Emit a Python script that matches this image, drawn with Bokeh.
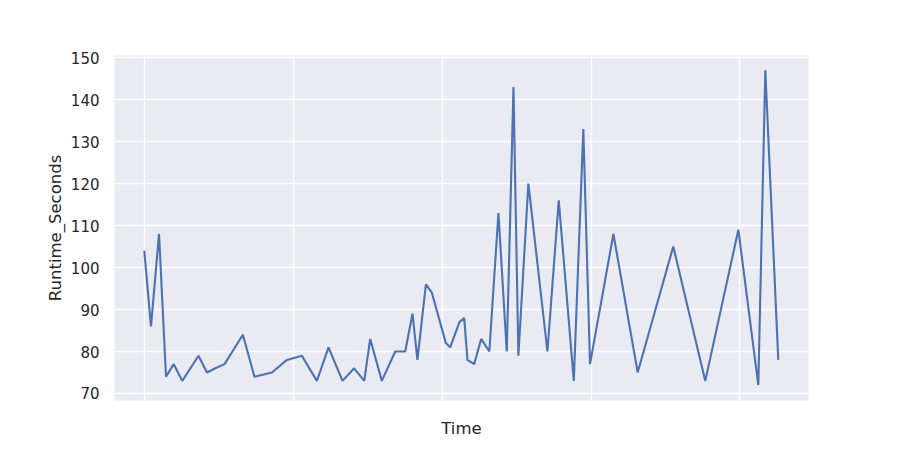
from bokeh.plotting import figure
from bokeh.models import FixedTicker, Range1d
from bokeh.embed import file_html
from bokeh.resources import INLINE

# Time (in days from start) and runtime values
time_days = [0.000, 0.045, 0.099, 0.146, 0.197, 0.255, 0.364, 0.421, 0.477, 0.539,
             0.662, 0.740, 0.857, 0.958, 1.058, 1.159, 1.237, 1.331, 1.409, 1.477,
             1.517, 1.595, 1.685, 1.752, 1.801, 1.834, 1.891, 1.931, 2.025, 2.054,
             2.116, 2.148, 2.170, 2.215, 2.262, 2.317, 2.378, 2.434, 2.479, 2.512,
             2.579, 2.707, 2.783, 2.884, 2.948, 2.993, 3.150, 3.313, 3.552, 3.767,
             3.989, 4.123, 4.170, 4.257]
runtime_seconds = [104, 86, 108, 74, 77, 73, 79, 75, 76, 77,
                   84, 74, 75, 78, 79, 73, 81, 73, 76, 73,
                   83, 73, 80, 80, 89, 78, 96, 94, 82, 81,
                   87, 88, 78, 77, 83, 80, 113, 80, 143, 79,
                   120, 80, 116, 73, 133, 77, 108, 75, 105, 73,
                   109, 72, 147, 78]
x_ticks = [0, 1, 2, 3, 4]
y_ticks = [70, 80, 90, 100, 110, 120, 130, 140, 150]

TEXT = "#262626"
FONT = "DejaVu Sans"

p = figure(width=900, height=450, output_backend="svg", toolbar_location=None,
           x_range=Range1d(-0.20, 4.46), y_range=Range1d(68.33, 150.5),
           min_border_left=114, min_border_right=92, min_border_top=55, min_border_bottom=50)

p.background_fill_color = "#EAEAF2"
p.border_fill_color = "white"
p.outline_line_color = None

p.line(time_days, runtime_seconds, line_color="#4C72B0", line_width=2.1)

for ax in (p.xaxis[0], p.yaxis[0]):
    ax.axis_line_color = None
    ax.major_tick_line_color = None
    ax.minor_tick_line_color = None
    ax.major_tick_out = 0
    ax.major_tick_in = 0
    ax.axis_label_text_font = FONT
    ax.axis_label_text_font_style = "normal"
    ax.axis_label_text_font_size = "16.5px"
    ax.axis_label_text_color = TEXT
    ax.major_label_text_font = FONT
    ax.major_label_text_color = TEXT

p.xaxis.ticker = FixedTicker(ticks=x_ticks)
p.yaxis.ticker = FixedTicker(ticks=y_ticks)
p.xaxis.axis_label = "Time"
p.yaxis.axis_label = "Runtime_Seconds"
p.xaxis.major_label_overrides = {t: "" for t in x_ticks}
p.xaxis.major_label_text_font_size = "15px"
p.xaxis.major_label_standoff = 0
p.xaxis.axis_label_standoff = 18
p.yaxis.major_label_text_font_size = "15px"
p.yaxis.major_label_standoff = 15
p.yaxis.axis_label_standoff = 3

p.grid.grid_line_color = "white"
p.grid.grid_line_width = 1.4

open("out.html", "w").write(file_html(p, INLINE))
